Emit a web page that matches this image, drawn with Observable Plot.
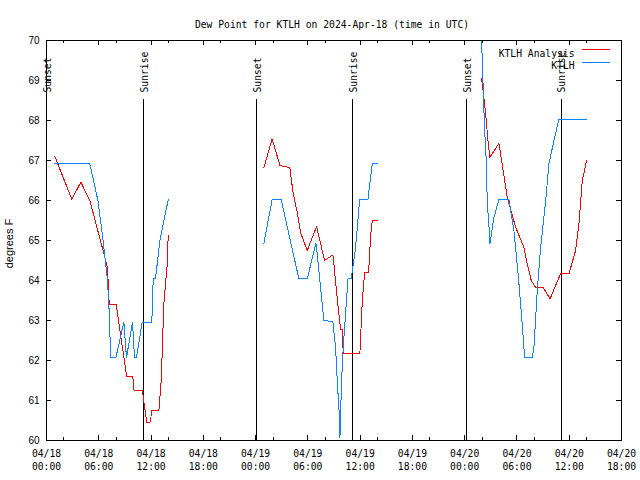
<!DOCTYPE html>
<html><head><meta charset="utf-8">
<script src="https://cdn.jsdelivr.net/npm/d3@7"></script>
<script src="https://cdn.jsdelivr.net/npm/@observablehq/plot@0.6"></script>
<style>
body{margin:0;background:#fff}
#chart svg path, #chart svg line, #chart svg rect{shape-rendering:crispEdges}
</style></head><body><div id="chart"></div>
<script>
const title = "Dew Point for KTLH on 2024-Apr-18 (time in UTC)";
const yLabel = "degrees F";
const seriesNames = ["KTLH Analysis", "KTLH"];
const seriesColors = ["#ff0000", "#0b84ff"];

// hours since 2024-04-18 00:00 UTC
const analysisHours = [0.96,2.91,3.94,4.97,6.8,7.0,7.2,8.0,9.2,9.9,10.05,11.0,11.5,11.9,12.1,12.9,13.17,13.47,13.66,13.85,13.97,
  24.95,25.9,26.8,27.93,28.3,28.78,29.16,29.93,31.0,31.92,32.87,32.95,33.3,33.56,33.76,33.95,34.06,35.97,36.24,36.51,36.97,37.2,37.39,37.97,
  49.94,50.13,50.4,50.71,50.9,51.93,52.89,53.85,54.8,55.18,55.64,56.14,57.02,57.79,59.01,59.97,60.73,61.12,61.5,62.0];
const analysisValues = [67.1,66.03,66.46,66.0,64.5,64.3,63.4,63.4,61.6,61.6,61.25,61.25,60.46,60.46,60.75,60.75,61.5,63.42,63.92,64.38,65.13,
  66.82,67.54,66.875,66.82,66.2,65.7,65.2,64.75,65.35,64.5,64.64,64.5,63.7,63.17,62.77,62.77,62.17,62.17,63.46,64.2,64.2,65.1,65.5,65.5,
  69.04,68.71,68.17,67.42,67.08,67.43,66.08,65.33,64.83,64.42,64.0,63.83,63.82,63.54,64.17,64.17,64.75,65.42,66.5,67.0];
const analysisSegments = [0,0,0,0,0,0,0,0,0,0,0,0,0,0,0,0,0,0,0,0,0,
  1,1,1,1,1,1,1,1,1,1,1,1,1,1,1,1,1,1,1,1,1,1,1,1,
  2,2,2,2,2,2,2,2,2,2,2,2,2,2,2,2,2,2,2,2];

const obsHours = [0.96,4.97,5.9,6.5,7.0,7.2,7.3,7.39,7.96,8.88,9.18,9.87,10.1,10.33,10.98,12.09,12.25,12.51,13.01,13.97,
  24.95,25.9,26.94,28.97,29.93,30.92,31.0,31.84,32.87,33.18,33.37,33.6,33.68,33.87,34.06,34.33,34.6,34.97,35.27,35.48,35.94,36.89,37.39,37.97,
  49.94,50.13,50.29,50.44,50.6,50.82,50.9,51.36,51.93,53.08,53.65,53.84,54.2,54.6,54.88,55.76,55.95,56.33,56.72,57.3,57.67,58.25,58.8,61.98];
const obsValues = [66.92,66.92,66.0,65.0,64.0,63.2,62.5,62.07,62.07,62.96,62.07,62.96,62.07,62.07,62.96,62.96,64.04,64.04,65.0,66.02,
  64.93,66.02,66.02,64.04,64.04,64.93,64.83,63.0,62.97,62.33,61.5,60.67,60.08,61.5,62.33,63.17,64.04,64.04,64.5,64.83,66.02,66.02,66.92,66.92,
  70.0,68.75,67.75,67.17,65.92,65.25,64.92,65.58,66.02,66.02,65.25,64.83,64.0,62.92,62.08,62.08,62.33,63.75,64.83,66.0,66.92,67.5,68.02,68.02];
const obsSegments = [0,0,0,0,0,0,0,0,0,0,0,0,0,0,0,0,0,0,0,0,
  1,1,1,1,1,1,1,1,1,1,1,1,1,1,1,1,1,1,1,1,1,1,1,1,
  2,2,2,2,2,2,2,2,2,2,2,2,2,2,2,2,2,2,2,2,2,2,2,2];

const sunHours = [0.04, 11.17, 24.14, 35.17, 48.2, 59.1];
const sunLabels = ["Sunset", "Sunrise", "Sunset", "Sunrise", "Sunset", "Sunrise"];

const xTickHours = [0,6,12,18,24,30,36,42,48,54,60,66];
const xTickLabels = ["04/18\n00:00","04/18\n06:00","04/18\n12:00","04/18\n18:00",
  "04/19\n00:00","04/19\n06:00","04/19\n12:00","04/19\n18:00",
  "04/20\n00:00","04/20\n06:00","04/20\n12:00","04/20\n18:00"];
const xMinorHours = [2,8,14,20,26,32,38,44,50,56,62];
const yTicks = [60,61,62,63,64,65,66,67,68,69,70];

const analysis = analysisHours.map((h, i) => ({h, v: analysisValues[i], seg: analysisSegments[i]}));
const obs = obsHours.map((h, i) => ({h, v: obsValues[i], seg: obsSegments[i]}));
const sun = sunHours.map((h, i) => ({h, label: sunLabels[i]}));

const W = 640, H = 480, mL = 46, mR = 19, mT = 40, mB = 40;
const pw = W - mL - mR, ph = H - mT - mB;
const mono = "DejaVu Sans Mono";
const sans = "Liberation Sans";

const svg = Plot.plot({
  width: W, height: H,
  marginLeft: mL, marginRight: mR, marginTop: mT, marginBottom: mB,
  style: {fontFamily: mono, fontSize: "9.7px", background: "#fff", color: "#000"},
  x: {domain: [0, 66], axis: null},
  y: {domain: [60, 70], axis: null},
  marks: [
    // sun lines
    Plot.ruleX(sun, {x: "h", stroke: "#000", insetTop: 59}),
    Plot.text(sun, {x: "h", text: "label", frameAnchor: "top", dy: 52, dx: 1, rotate: -90,
      textAnchor: "start", lineAnchor: "middle", fontFamily: mono, fontSize: 9.7, fill: "#000"}),
    // ticks
    Plot.ruleX(xTickHours, {x: d => d, stroke: "#000", insetTop: ph - 5}),
    Plot.ruleX(xTickHours, {x: d => d, stroke: "#000", insetBottom: ph - 5}),
    Plot.ruleX(xMinorHours, {x: d => d, stroke: "#000", insetTop: ph - 3}),
    Plot.ruleX(xMinorHours, {x: d => d, stroke: "#000", insetBottom: ph - 3}),
    Plot.ruleY(yTicks, {y: d => d, stroke: "#000", insetRight: pw - 5}),
    Plot.ruleY(yTicks, {y: d => d, stroke: "#000", insetLeft: pw - 5}),
    // tick labels
    Plot.text(xTickHours, {x: d => d, text: (d, i) => xTickLabels[i], frameAnchor: "bottom", dy: 8,
      lineAnchor: "top", lineHeight: 1.3, fontFamily: mono, fontSize: 9.7, fill: "#000"}),
    Plot.text(yTicks, {y: d => d, text: d => String(d), frameAnchor: "left", textAnchor: "end", dx: -7,
      fontFamily: sans, fontSize: 10, fill: "#000"}),
    // axis label & title
    Plot.text([yLabel], {frameAnchor: "left", dx: -37, dy: 3, rotate: -90, text: d => d,
      textAnchor: "middle", lineAnchor: "middle", fontFamily: sans, fontSize: 11, fill: "#000"}),
    Plot.text([title], {frameAnchor: "top", dy: -19, dx: -2, text: d => d, fontFamily: mono, fontSize: 9.7, fill: "#000"}),
    // data
    Plot.line(analysis, {x: "h", y: "v", z: "seg", stroke: seriesColors[0], strokeWidth: 1}),
    Plot.line(obs, {x: "h", y: "v", z: "seg", stroke: seriesColors[1], strokeWidth: 1}),
    // legend text
    Plot.text([seriesNames[0]], {frameAnchor: "top-right", dx: -47, dy: 10, textAnchor: "end", text: d => d,
      fontFamily: mono, fontSize: 9.7, fill: "#000"}),
    Plot.text([seriesNames[1]], {frameAnchor: "top-right", dx: -47, dy: 22, textAnchor: "end", text: d => d,
      fontFamily: mono, fontSize: 9.7, fill: "#000"}),
    Plot.frame({stroke: "#000"})
  ]
});

// legend swatches
const s = d3.select(svg);
seriesColors.forEach((c, i) => {
  s.append("line").attr("x1", 582).attr("x2", 610).attr("y1", 49.5 + 12.5 * i).attr("y2", 49.5 + 12.5 * i)
    .attr("stroke", c).attr("stroke-width", 1).style("shape-rendering", "crispEdges");
});
document.getElementById("chart").appendChild(svg);
</script>
</body></html>
